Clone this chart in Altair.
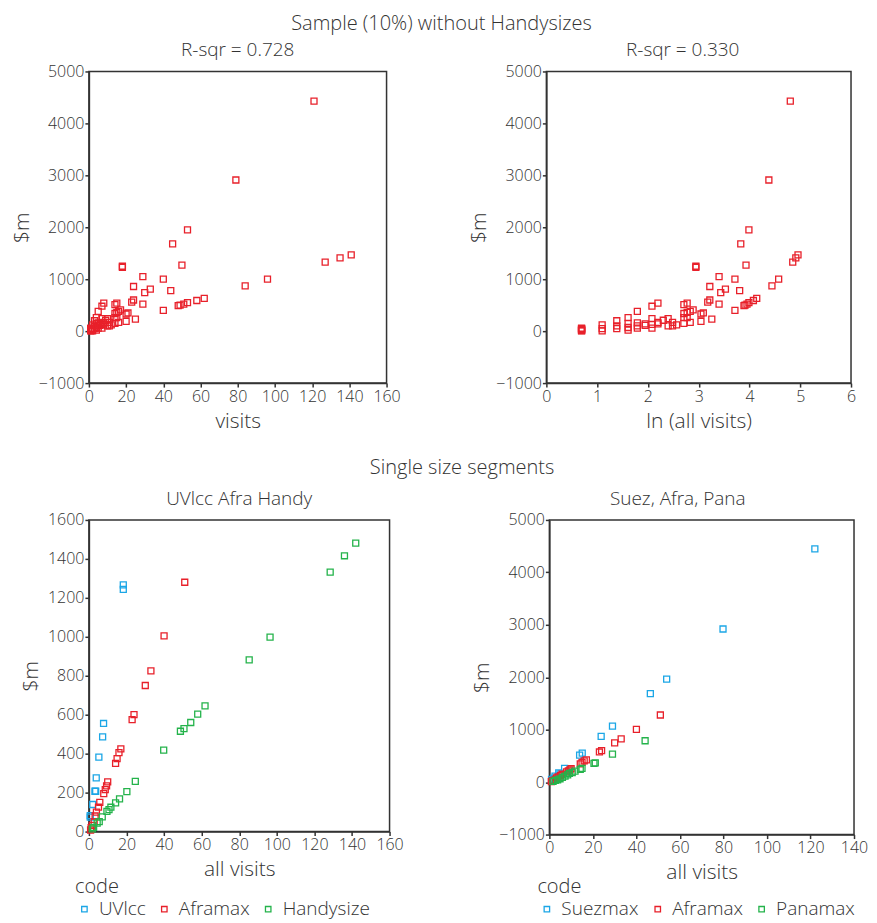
import altair as alt
import pandas as pd

# ---------------- data ----------------
sample_visits = [121, 79, 53, 45, 50, 18, 18, 29, 40, 96, 84, 127, 135, 141, 24, 33, 30, 44,
                 23, 24, 29, 40, 48, 49, 51, 53, 58, 62, 20, 21, 20, 25, 14, 15, 14, 15, 14, 15,
                 14, 16, 16, 17, 7, 8, 5, 4, 3, 2, 7, 7, 7, 8, 8, 9, 10, 10, 11, 11, 12, 6, 6,
                 5, 5, 5, 4, 4, 4, 3, 3, 2, 2, 1, 1, 1, 1, 1, 1, 1]
sample_value = [4430, 2910, 1950, 1680, 1270, 1250, 1230, 1050, 1000, 1000, 870, 1330, 1410, 1470,
                860, 810, 740, 780, 560, 600, 520, 400, 490, 500, 520, 550, 590, 630, 330, 350,
                190, 230, 510, 540, 340, 360, 260, 260, 150, 170, 380, 410, 480, 540, 380, 260,
                200, 120, 240, 130, 60, 170, 140, 210, 240, 100, 170, 100, 120, 140, 110, 160,
                100, 60, 150, 70, 20, 100, 50, 50, 5, 60, 40, 20, 5, 50, 30, 10]

uvlcc_visits = [18.3, 18.3, 7.8, 7.3, 5.3, 3.9, 3.2, 3.6, 2.0, 0.7, 0.7]
uvlcc_value = [1267, 1243, 555, 486, 382, 276, 207, 207, 139, 82, 74]

afra_visits = [51, 40, 33, 30, 24, 23, 17, 16, 15, 14.2, 10, 9.4, 8.7, 7.9, 5.8, 5.1, 4.0,
               3.3, 2.8, 1.8, 1.2, 0.9]
afra_value = [1280, 1005, 825, 750, 600, 575, 425, 405, 375, 350, 255, 235, 215, 195, 150, 125,
              100, 80, 50, 32, 20, 8]

handy_visits = [142, 136, 128.4, 96.4, 85.3, 61.8, 57.9, 54.2, 50.6, 48.7, 39.8, 24.7, 20.2,
                16.3, 14.2, 11.7, 10.7, 9.6, 7.1, 5.5, 4.4, 2.5, 1.8]
handy_value = [1481, 1416, 1332, 998, 882, 645, 603, 560, 529, 515, 418, 258, 205, 168, 147, 125,
               113, 104, 75, 51, 43, 22, 14]

suez_visits = [122, 79.8, 53.9, 46.4, 29, 23.8, 15.1, 13.9, 7, 4.3, 4.9, 2.6, 2, 1]
suez_value = [4447, 2920, 1966, 1686, 1069, 871, 553, 515, 261, 178, 159, 115, 76, 51]

pana_visits = [44, 29, 21.1, 20.5, 15, 14.2, 11.8, 10.5, 9.2, 8.4, 7.2, 6, 4.9, 3.8, 2.7, 1.7]
pana_value = [789, 534, 369, 356, 261, 242, 210, 184, 165, 140, 115, 89, 64, 45, 32, 13]

BLUE, RED, GREEN = "#1ba6e6", "#e8202a", "#24b34b"
TXT = "#333333"
FONT = "Open Sans"


def frame(code, xs, ys):
    return pd.DataFrame({"code": code, "visits": xs, "value": ys})


sample = frame("Sample", sample_visits, sample_value)
left = pd.concat([frame("UVlcc", uvlcc_visits, uvlcc_value),
                  frame("Aframax", afra_visits, afra_value),
                  frame("Handysize", handy_visits, handy_value)])
right = pd.concat([frame("Suezmax", suez_visits, suez_value),
                   frame("Aframax", afra_visits, afra_value),
                   frame("Panamax", pana_visits, pana_value)])


def xaxis(title, vals):
    return alt.Axis(title=title, values=vals, labelFlush=False, grid=False, format="d")


def yaxis(vals):
    return alt.Axis(title="$m", values=vals, labelFlush=False, grid=False, format="d")


def pt(chart, **kw):
    return chart.mark_point(shape="square", filled=False, size=36, strokeWidth=1.3, opacity=1, **kw)


def ptitle(text, dx=0):
    return alt.TitleParams(text, fontSize=19, font=FONT, fontWeight=300, color=TXT,
                           offset=3, dx=dx)


def legend(dx):
    return alt.Legend(title="code", orient="none", legendX=dx, legendY=357, direction="horizontal",
                      titleAnchor="start", symbolType="square", symbolSize=30,
                      symbolStrokeWidth=1.3, symbolFillColor="white", symbolOffset=0,
                      labelFontSize=19, titleFontSize=20, labelFont=FONT, titleFont=FONT,
                      labelFontWeight=300, titleFontWeight=300, labelColor=TXT, titleColor=TXT,
                      columnPadding=9, padding=0, titlePadding=3, labelOffset=5)


tl = pt(alt.Chart(sample), color=RED).encode(
    x=alt.X("visits:Q", scale=alt.Scale(domain=[0, 160], nice=False),
            axis=xaxis("visits", list(range(0, 161, 20)))),
    y=alt.Y("value:Q", scale=alt.Scale(domain=[-1000, 5000], nice=False),
            axis=yaxis(list(range(-1000, 5001, 1000)))),
).properties(width=298, height=312, title=ptitle("R-sqr = 0.728"))

tr = pt(alt.Chart(sample).transform_calculate(lnv="log(datum.visits + 1)"), color=RED).encode(
    x=alt.X("lnv:Q", scale=alt.Scale(domain=[0, 6], nice=False),
            axis=xaxis("ln (all visits)", list(range(0, 7)))),
    y=alt.Y("value:Q", scale=alt.Scale(domain=[-1000, 5000], nice=False),
            axis=yaxis(list(range(-1000, 5001, 1000)))),
).properties(width=305, height=312, title=ptitle("R-sqr = 0.330", -16))

bl = pt(alt.Chart(left)).encode(
    x=alt.X("visits:Q", scale=alt.Scale(domain=[0, 160], nice=False),
            axis=xaxis("all visits", list(range(0, 161, 20)))),
    y=alt.Y("value:Q", scale=alt.Scale(domain=[0, 1600], nice=False),
            axis=yaxis(list(range(0, 1601, 200)))),
    color=alt.Color("code:N", scale=alt.Scale(domain=["UVlcc", "Aframax", "Handysize"],
                                              range=[BLUE, RED, GREEN]), legend=legend(-14)),
).properties(width=301, height=312, title=ptitle("UVlcc  Afra  Handy"))

br = pt(alt.Chart(right)).encode(
    x=alt.X("visits:Q", scale=alt.Scale(domain=[0, 140], nice=False),
            axis=xaxis("all visits", list(range(0, 141, 20)))),
    y=alt.Y("value:Q", scale=alt.Scale(domain=[-1000, 5000], nice=False),
            axis=yaxis(list(range(-1000, 5001, 1000)))),
    color=alt.Color("code:N", scale=alt.Scale(domain=["Suezmax", "Aframax", "Panamax"],
                                              range=[BLUE, RED, GREEN]), legend=legend(-12)),
).properties(width=305, height=315, title=ptitle("Suez, Afra, Pana", -24))

sec = dict(fontSize=20, font=FONT, fontWeight=300, color=TXT)
top = alt.hconcat(tl, tr, spacing=66).properties(
    title=alt.TitleParams("Sample (10%) without Handysizes", dx=8, offset=7, **sec))
bottom = alt.hconcat(bl, br, spacing=66).resolve_scale(color="independent").properties(
    title=alt.TitleParams("Single size segments", dx=18, offset=11, **sec))

chart = alt.vconcat(top, bottom, spacing=26).configure_axis(
    labelFont=FONT, labelFontSize=16, labelColor=TXT, labelFontWeight=300,
    titleFont=FONT, titleFontSize=21, titleColor=TXT, titleFontWeight=300,
    domainColor=TXT, domainWidth=1.5, tickColor=TXT, tickSize=4, tickWidth=1.5,
    labelPadding=1, titlePadding=6,
).configure_view(stroke=TXT, strokeWidth=1.5).configure_title(
    font=FONT, fontWeight=300, color=TXT, anchor="middle"
).properties(padding={"left": 2, "top": 5, "right": 0, "bottom": 0})

chart.save("out.html", embed_options={"renderer": "svg", "actions": False})
